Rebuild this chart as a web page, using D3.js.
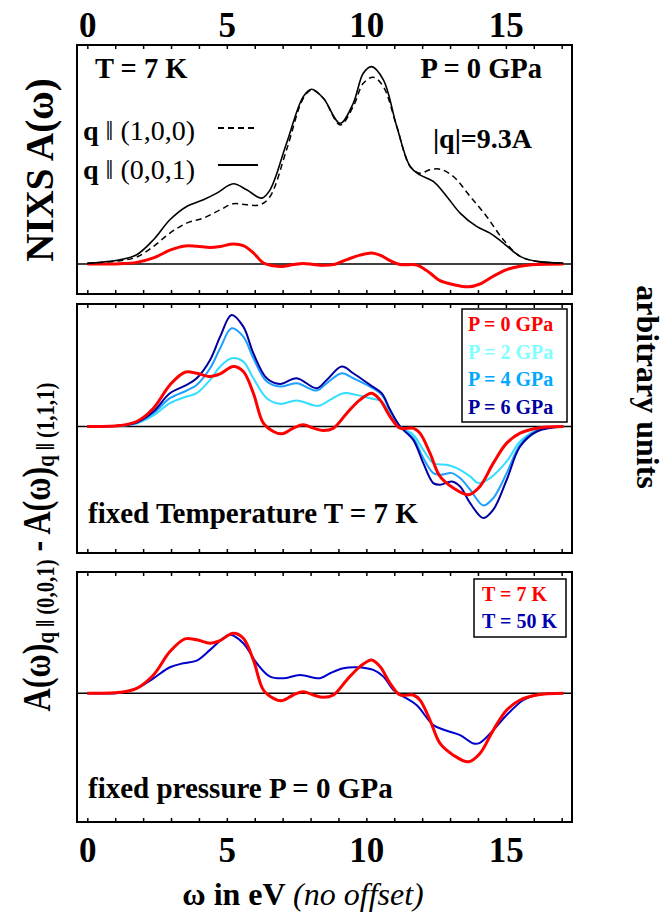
<!DOCTYPE html>
<html>
<head>
<meta charset="utf-8">
<script src="https://cdn.jsdelivr.net/npm/d3@7"></script>
<style>
  body { margin: 0; background: #fff; }
  svg { font-family: "Liberation Serif", "Times New Roman", serif; }
</style>
</head>
<body>
<div id="chart"></div>
<script>
// data: [energy in eV, intensity in arbitrary units]
var nixs001 = [[0,0.02],[1.17,0.13],[1.77,0.28],[2.37,0.73],[2.96,1.33],[3.56,1.73],[4.16,1.93],[4.64,2.13],[5.23,2.41],[5.71,2.23],[6.25,1.98],[6.55,2.23],[7.14,3.63],[7.74,5.03],[8.04,5.25],[8.46,4.98],[9.06,4.23],[9.53,4.83],[9.89,5.73],[10.19,5.93],[10.61,5.53],[11.09,4.13],[11.57,2.93],[11.92,2.68],[12.40,2.48],[12.88,2.03],[13.36,1.53],[13.95,1.13],[14.43,0.93],[14.91,0.63],[15.51,0.23],[16.11,0.08],[17.06,0.03]]
var nixs100 = [[0,0.02],[1.17,0.10],[1.77,0.21],[2.37,0.53],[2.96,0.93],[3.56,1.23],[4.16,1.38],[4.76,1.63],[5.23,1.81],[5.71,1.78],[6.19,1.78],[6.55,2.03],[7.14,3.43],[7.74,4.98],[8.04,5.23],[8.46,4.98],[9.06,4.18],[9.53,4.73],[9.89,5.43],[10.25,5.61],[10.61,5.33],[11.09,4.13],[11.57,2.93],[11.92,2.73],[12.28,2.83],[12.64,2.85],[13.12,2.63],[13.72,2.03],[14.31,1.43],[14.91,0.73],[15.51,0.23],[16.11,0.08],[17.06,0.03]]

// differences A(0,0,1) - A(1,1,1)
var diffP0 = [[0,0],[1.17,0.03],[1.77,0.15],[2.37,0.55],[2.96,1.25],[3.50,1.63],[3.92,1.60],[4.40,1.50],[4.76,1.58],[5.23,1.80],[5.59,1.65],[5.95,1.00],[6.31,0.10],[6.67,-0.15],[6.97,-0.22],[7.38,-0.05],[7.74,0.05],[8.10,-0.05],[8.46,-0.12],[8.82,-0.05],[9.30,0.40],[9.77,0.80],[10.19,1.00],[10.49,0.80],[10.85,0.30],[11.21,-0.05],[11.68,-0.05],[11.92,-0.20],[12.28,-0.80],[12.64,-1.50],[13.12,-1.85],[13.66,-2.05],[14.07,-1.80],[14.55,-1.10],[15.03,-0.50],[15.51,-0.20],[16.11,-0.05],[17.06,0]]
var diffP2 = [[0,0],[1.17,0.02],[1.77,0.09],[2.37,0.33],[2.96,0.70],[3.56,0.90],[3.92,1.00],[4.40,1.40],[4.76,1.80],[5.17,2.05],[5.59,1.95],[5.95,1.45],[6.43,0.85],[6.91,0.68],[7.50,0.78],[8.28,0.62],[8.70,0.80],[9.18,1.00],[9.65,0.95],[10.13,0.85],[10.55,0.75],[10.85,0.40],[11.21,0],[11.68,-0.25],[12.04,-0.70],[12.40,-1.10],[12.88,-1.15],[13.24,-1.25],[13.72,-1.50],[14.01,-1.70],[14.43,-1.55],[15.03,-1.05],[15.51,-0.45],[16.11,-0.12],[17.06,0]]
var diffP4 = [[0,0],[1.17,0.03],[1.77,0.11],[2.37,0.40],[2.96,0.85],[3.56,1.08],[3.92,1.25],[4.40,1.75],[4.76,2.35],[5.17,2.95],[5.59,2.70],[5.95,2.05],[6.43,1.35],[6.91,1.20],[7.50,1.30],[8.22,1.08],[8.58,1.30],[9.12,1.60],[9.53,1.45],[10.13,1.20],[10.55,0.95],[10.85,0.50],[11.21,0],[11.68,-0.35],[12.04,-0.95],[12.40,-1.40],[12.64,-1.45],[13.06,-1.40],[13.36,-1.55],[13.72,-1.90],[14.19,-2.37],[14.55,-2.15],[15.03,-1.40],[15.51,-0.55],[16.11,-0.12],[17.06,0]]
var diffP6 = [[0,0],[1.17,0.03],[1.77,0.12],[2.37,0.45],[2.96,1.00],[3.56,1.25],[3.92,1.45],[4.40,2.00],[4.76,2.70],[5.17,3.35],[5.59,3.00],[5.95,2.20],[6.43,1.45],[6.91,1.28],[7.50,1.45],[8.22,1.15],[8.58,1.40],[9.12,1.80],[9.53,1.60],[10.13,1.25],[10.55,1.00],[10.85,0.50],[11.21,0],[11.68,-0.40],[12.04,-1.10],[12.40,-1.70],[12.64,-1.75],[13.06,-1.65],[13.36,-1.80],[13.72,-2.30],[14.19,-2.75],[14.55,-2.50],[15.03,-1.60],[15.51,-0.60],[16.11,-0.15],[17.06,0]]
var diffT50 = [[0,0],[1.17,0.02],[1.77,0.15],[2.37,0.45],[2.96,0.78],[3.44,0.90],[3.92,0.98],[4.40,1.30],[4.87,1.65],[5.11,1.75],[5.59,1.50],[6.07,0.90],[6.55,0.50],[7.03,0.45],[7.62,0.55],[8.34,0.45],[8.70,0.60],[9.18,0.75],[9.65,0.78],[10.25,0.70],[10.61,0.50],[10.97,0.10],[11.33,-0.10],[11.80,-0.35],[12.40,-0.95],[12.88,-1.12],[13.36,-1.25],[13.84,-1.50],[14.07,-1.48],[14.55,-1.10],[15.03,-0.65],[15.63,-0.20],[16.11,-0.05],[17.06,0]]

var xTicks = d3.range(0, 18)
var xLabels = [0, 5, 10, 15]
var pressureLabels = ["P = 0 GPa", "P = 2 GPa", "P = 4 GPa", "P = 6 GPa"]
var tempLabels = ["T = 7 K", "T = 50 K"]

var width = 670, height = 915

var svg = d3.select("#chart").append("svg")
    .attr("width", width)
    .attr("height", height)

var x = d3.scaleLinear().domain([-0.37, 17.37]).range([77, 572])

// one y scale per panel
var yTop = d3.scaleLinear().domain([-0.9, 6.58]).range([294, 45])
var yTopDiff = d3.scaleLinear().domain([-2.7, 19.74]).range([294, 45])
var yMid = d3.scaleLinear().domain([-3.8, 3.68]).range([553, 304])
var yBot = d3.scaleLinear().domain([-3.85, 3.63]).range([822, 572])

function lineFor(y) {
  return d3.line()
    .x(function(d) { return x(d[0]) })
    .y(function(d) { return y(d[1]) })
    .curve(d3.curveCatmullRom.alpha(0.5))
}

function panel(y) {
  var g = svg.append("g")
  var y0 = y.range()[1], y1 = y.range()[0]
  // zero line
  g.append("line")
    .attr("x1", x.range()[0]).attr("x2", x.range()[1])
    .attr("y1", y(0)).attr("y2", y(0))
    .attr("stroke", "black").attr("stroke-width", 1.5)
  // inward ticks, top and bottom
  g.append("g").attr("transform", "translate(0," + y0 + ")")
    .call(d3.axisTop(x).tickValues(xTicks).tickSize(-4).tickFormat(""))
  g.append("g").attr("transform", "translate(0," + y1 + ")")
    .call(d3.axisBottom(x).tickValues(xTicks).tickSize(-4).tickFormat(""))
  g.selectAll(".domain").remove()
  g.selectAll(".tick line").attr("stroke", "black").attr("stroke-width", 1.5)
  return g
}

function frame(y) {
  svg.append("rect")
    .attr("x", x.range()[0]).attr("y", y.range()[1])
    .attr("width", x.range()[1] - x.range()[0])
    .attr("height", y.range()[0] - y.range()[1])
    .attr("fill", "none").attr("stroke", "black").attr("stroke-width", 2)
}

// ---- top panel
var gTop = panel(yTop)
gTop.append("path").datum(diffP0).attr("d", lineFor(yTopDiff))
  .attr("fill", "none").attr("stroke", "#ff0000").attr("stroke-width", 3)
gTop.append("path").datum(nixs100).attr("d", lineFor(yTop))
  .attr("fill", "none").attr("stroke", "black").attr("stroke-width", 1.5)
  .attr("stroke-dasharray", "6,4")
gTop.append("path").datum(nixs001).attr("d", lineFor(yTop))
  .attr("fill", "none").attr("stroke", "black").attr("stroke-width", 1.6)
frame(yTop)

svg.append("g").attr("transform", "translate(0,45)")
  .call(d3.axisTop(x).tickValues(xLabels).tickSize(0).tickPadding(8))
  .call(function(g) { g.select(".domain").remove() })
  .selectAll("text").attr("font-size", 35).attr("font-weight", "bold")
  .attr("font-family", "Liberation Serif").attr("fill", "black")

svg.append("text").attr("x", 95).attr("y", 78).text("T = 7 K")
  .attr("font-size", 28.5).attr("font-weight", "bold")
svg.append("text").attr("x", 542).attr("y", 78).attr("text-anchor", "end").text("P = 0 GPa")
  .attr("font-size", 28.5).attr("font-weight", "bold")
svg.append("text").attr("x", 532).attr("y", 148).attr("text-anchor", "end").text("|q|=9.3A")
  .attr("font-size", 28).attr("font-weight", "bold")

var legTop = [["(1,0,0)", "6,4", 140, 128], ["(0,0,1)", null, 179, 165]]
legTop.forEach(function(l) {
  var t = svg.append("text").attr("x", 83).attr("y", l[2]).attr("font-size", 28)
  t.append("tspan").attr("font-weight", "bold").text("q ")
  t.append("tspan").text("\u2016 " + l[0])
  svg.append("line").attr("x1", 218).attr("x2", 258).attr("y1", l[3]).attr("y2", l[3])
    .attr("stroke", "black").attr("stroke-width", 2).attr("stroke-dasharray", l[1])
})

// ---- middle panel: pressure series
var gMid = panel(yMid)
var midSeries = [[diffP2, "#33ddff", 2], [diffP4, "#1ea0ff", 2], [diffP6, "#0000a0", 2], [diffP0, "#ff0000", 3]]
midSeries.forEach(function(s) {
  gMid.append("path").datum(s[0]).attr("d", lineFor(yMid))
    .attr("fill", "none").attr("stroke", s[1]).attr("stroke-width", s[2])
})
frame(yMid)

var pColors = ["#ff0000", "#80ffff", "#00a8ff", "#0000a0"]
svg.append("rect").attr("x", 462).attr("y", 309).attr("width", 105).attr("height", 113)
  .attr("fill", "white").attr("stroke", "black").attr("stroke-width", 1.5)
pressureLabels.forEach(function(p, i) {
  svg.append("text").attr("x", 468).attr("y", 331 + i * 27.7).text(p)
    .attr("font-size", 20).attr("font-weight", "bold").attr("fill", pColors[i])
})
svg.append("text").attr("x", 88).attr("y", 523).text("fixed Temperature T = 7 K")
  .attr("font-size", 29).attr("font-weight", "bold")

// ---- bottom panel: temperature series
var gBot = panel(yBot)
gBot.append("path").datum(diffT50).attr("d", lineFor(yBot))
  .attr("fill", "none").attr("stroke", "#0000cc").attr("stroke-width", 2)
gBot.append("path").datum(diffP0).attr("d", lineFor(yBot))
  .attr("fill", "none").attr("stroke", "#ff0000").attr("stroke-width", 3)
frame(yBot)

var tColors = ["#ff0000", "#0000b0"]
svg.append("rect").attr("x", 474).attr("y", 579).attr("width", 92).attr("height", 58)
  .attr("fill", "white").attr("stroke", "black").attr("stroke-width", 1.5)
tempLabels.forEach(function(t, i) {
  svg.append("text").attr("x", 482).attr("y", 601 + i * 27).text(t)
    .attr("font-size", 20).attr("font-weight", "bold").attr("fill", tColors[i])
})
svg.append("text").attr("x", 88).attr("y", 798).text("fixed pressure P = 0 GPa")
  .attr("font-size", 29).attr("font-weight", "bold")

svg.append("g").attr("transform", "translate(0,822)")
  .call(d3.axisBottom(x).tickValues(xLabels).tickSize(0).tickPadding(15))
  .call(function(g) { g.select(".domain").remove() })
  .selectAll("text").attr("font-size", 35).attr("font-weight", "bold")
  .attr("font-family", "Liberation Serif").attr("fill", "black")

// ---- axis titles
var xt = svg.append("text").attr("x", 303).attr("y", 905).attr("text-anchor", "middle")
  .attr("font-size", 32)
xt.append("tspan").attr("font-weight", "bold").text("\u03c9 in eV ")
xt.append("tspan").attr("font-style", "italic").text("(no offset)")

svg.append("text").attr("transform", "translate(53,170) rotate(-90)")
  .attr("text-anchor", "middle").attr("font-size", 39).attr("font-weight", "bold")
  .text("NIXS A(\u03c9)")

var yl = svg.append("text").attr("transform", "translate(50,547) rotate(-90) scale(0.8,1)")
  .attr("text-anchor", "middle").attr("font-weight", "bold").attr("font-size", 40)
yl.append("tspan").text("A(\u03c9)")
yl.append("tspan").attr("font-size", 26).attr("dy", 4).text("q \u2016 (0,0,1)")
yl.append("tspan").attr("dy", -4).text(" - A(\u03c9)")
yl.append("tspan").attr("font-size", 26).attr("dy", 4).text("q \u2016 (1,1,1)")

svg.append("text").attr("transform", "translate(637,387) rotate(90)")
  .attr("text-anchor", "middle").attr("font-size", 32).attr("font-weight", "bold")
  .text("arbitrary units")
</script>
</body>
</html>
